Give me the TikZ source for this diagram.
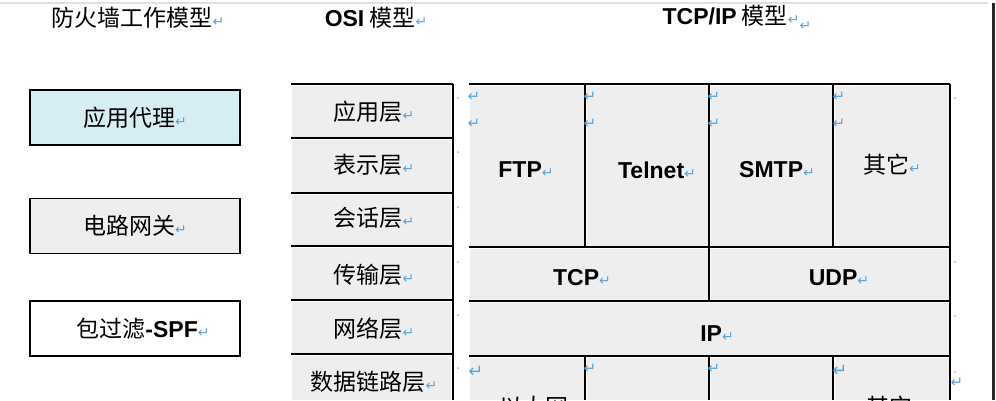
\documentclass[tikz,border=0pt]{standalone}
\usepackage{fontspec}
\setmainfont{Liberation Sans}
\newfontfamily\cjkf{Noto Sans CJK SC}
\newfontfamily\dvf{DejaVu Sans}
\definecolor{cellgray}{HTML}{EEEEEE}
\definecolor{cyanfill}{HTML}{D6EEF1}
\definecolor{markblue}{HTML}{5BA3DC}
\definecolor{dotblue}{HTML}{9DB8D0}
\newcommand\retmk{{\dvf\mdseries\fontsize{14}{14}\selectfont\textcolor{markblue}{↵}}}
\tikzset{
 fwbox/.style={draw=black, line width=1.4pt, minimum width=210pt, minimum height=55pt, inner sep=0pt, font=\cjkf\fontsize{23}{23}\selectfont},
 cjklab/.style={inner sep=0pt, font=\cjkf\fontsize{23}{23}\selectfont},
 latlab/.style={inner sep=0pt, font=\bfseries\fontsize{23}{23}\selectfont},
 rule/.style={draw=black, line width=1.4pt},
 pmark/.style={inner sep=0pt, font=\dvf\fontsize{15}{15}\selectfont, text=markblue},
 bigmark/.style={inner sep=0pt, font=\dvf\fontsize{18}{18}\selectfont, text=markblue},
 tdot/.style={fill=dotblue, circle, inner sep=0pt, minimum size=2pt},
}
\begin{document}
\begin{tikzpicture}[x=1pt,y=-1pt]
\useasboundingbox (0,0) rectangle (996,400);
\clip (0,0) rectangle (996,400);
\fill[white] (0,0) rectangle (996,400);
% page edges
\draw[black!12, line width=2pt] (0,3) -- (988,3);
\draw[black!85, line width=3pt] (993,3) -- (993,400);

% titles
\node[cjklab] (t1) at (138,18) {防火墙工作模型\retmk};
\node[cjklab] (t2) at (376,18) {{\normalfont\bfseries OSI} 模型\retmk};
\node[cjklab] (t3) at (737,18) {{\normalfont\bfseries TCP/IP} 模型\retmk\raisebox{-6pt}{\retmk}};

% firewall model boxes
\node[fwbox, fill=cyanfill] (fw1) at (135,117.5) {应用代理\retmk};
\node[fwbox, fill=cellgray] (fw2) at (135,226) {电路网关\retmk};
\node[fwbox, fill=white] (fw3) at (135,328.5) {\hspace*{16pt}包过滤{\normalfont\bfseries -SPF}\retmk};

% OSI fills
\foreach \a/\b in {85.5/136.5, 139.5/191.5, 194.5/244.5, 247.5/298.5, 301.5/352.5, 355.5/400}
  \fill[cellgray] (292,\a) rectangle (451,\b);
% OSI rules
\foreach \y in {84,138,193,246,300,354}
  \draw[rule] (291,\y) -- (453,\y);
\draw[rule] (453,84) -- (453,400);

% OSI labels
\node[cjklab] (o1) at (374,112) {应用层\retmk};
\node[cjklab] (o2) at (374,165) {表示层\retmk};
\node[cjklab] (o3) at (374,218) {会话层\retmk};
\node[cjklab] (o4) at (374,275) {传输层\retmk};
\node[cjklab] (o5) at (374,329) {网络层\retmk};
\node[cjklab] (o6) at (374,382) {数据链路层\retmk};

% TCP/IP fills
\foreach \l/\r in {470/583.5, 586.5/707.5, 710.5/831.5, 834.5/948.5} {
  \fill[cellgray] (\l,85.5) rectangle (\r,245.5);
  \fill[cellgray] (\l,357.5) rectangle (\r,400);
}
\fill[cellgray] (470,248.5) rectangle (707.5,299.5);
\fill[cellgray] (710.5,248.5) rectangle (948.5,299.5);
\fill[cellgray] (470,302.5) rectangle (948.5,354.5);

% TCP/IP rules
\foreach \y in {84,247,301,356}
  \draw[rule] (469,\y) -- (950,\y);
\draw[rule] (950,84) -- (950,400);
\foreach \x in {585,709,833} {
  \draw[rule] (\x,84) -- (\x,247);
  \draw[rule] (\x,356) -- (\x,400);
}
\draw[rule] (709,247) -- (709,301);

% TCP/IP labels
\node[latlab] (ftp) at (526,170) {FTP\retmk};
\node[latlab] (telnet) at (657,170) {Telnet\retmk};
\node[latlab] (smtp) at (777,170) {SMTP\retmk};
\node[cjklab] (oth1) at (892,165) {其它\retmk};
\node[latlab] (tcp) at (582,278) {TCP\retmk};
\node[latlab] (udp) at (839,278) {UDP\retmk};
\node[latlab] (ip) at (717,334) {IP\retmk};
\node[cjklab] (eth) at (540,407) {以太网\retmk};
\node[cjklab] (oth2) at (895,407) {其它\retmk};

% paragraph marks in cells
\foreach \x [count=\i] in {474,590,714,839} {
  \node[pmark] (ma\i) at (\x,97) {↵};
  \node[pmark] (mb\i) at (\x,124) {↵};
}
\node[bigmark] (mc1) at (476,372) {↵};
\node[pmark] (mc2) at (590,369) {↵};
\node[pmark] (mc3) at (714,369) {↵};
\node[bigmark] (mc4) at (840,371) {↵};
\node[pmark] (mc5) at (957,383) {↵};

% tiny dots
\foreach \y [count=\i] in {98,152,207,262,315,368}
  \node[tdot] (da\i) at (458,\y) {};
\foreach \y [count=\i] in {98,262,316,372}
  \node[tdot] (db\i) at (955,\y) {};
\end{tikzpicture}
\end{document}
